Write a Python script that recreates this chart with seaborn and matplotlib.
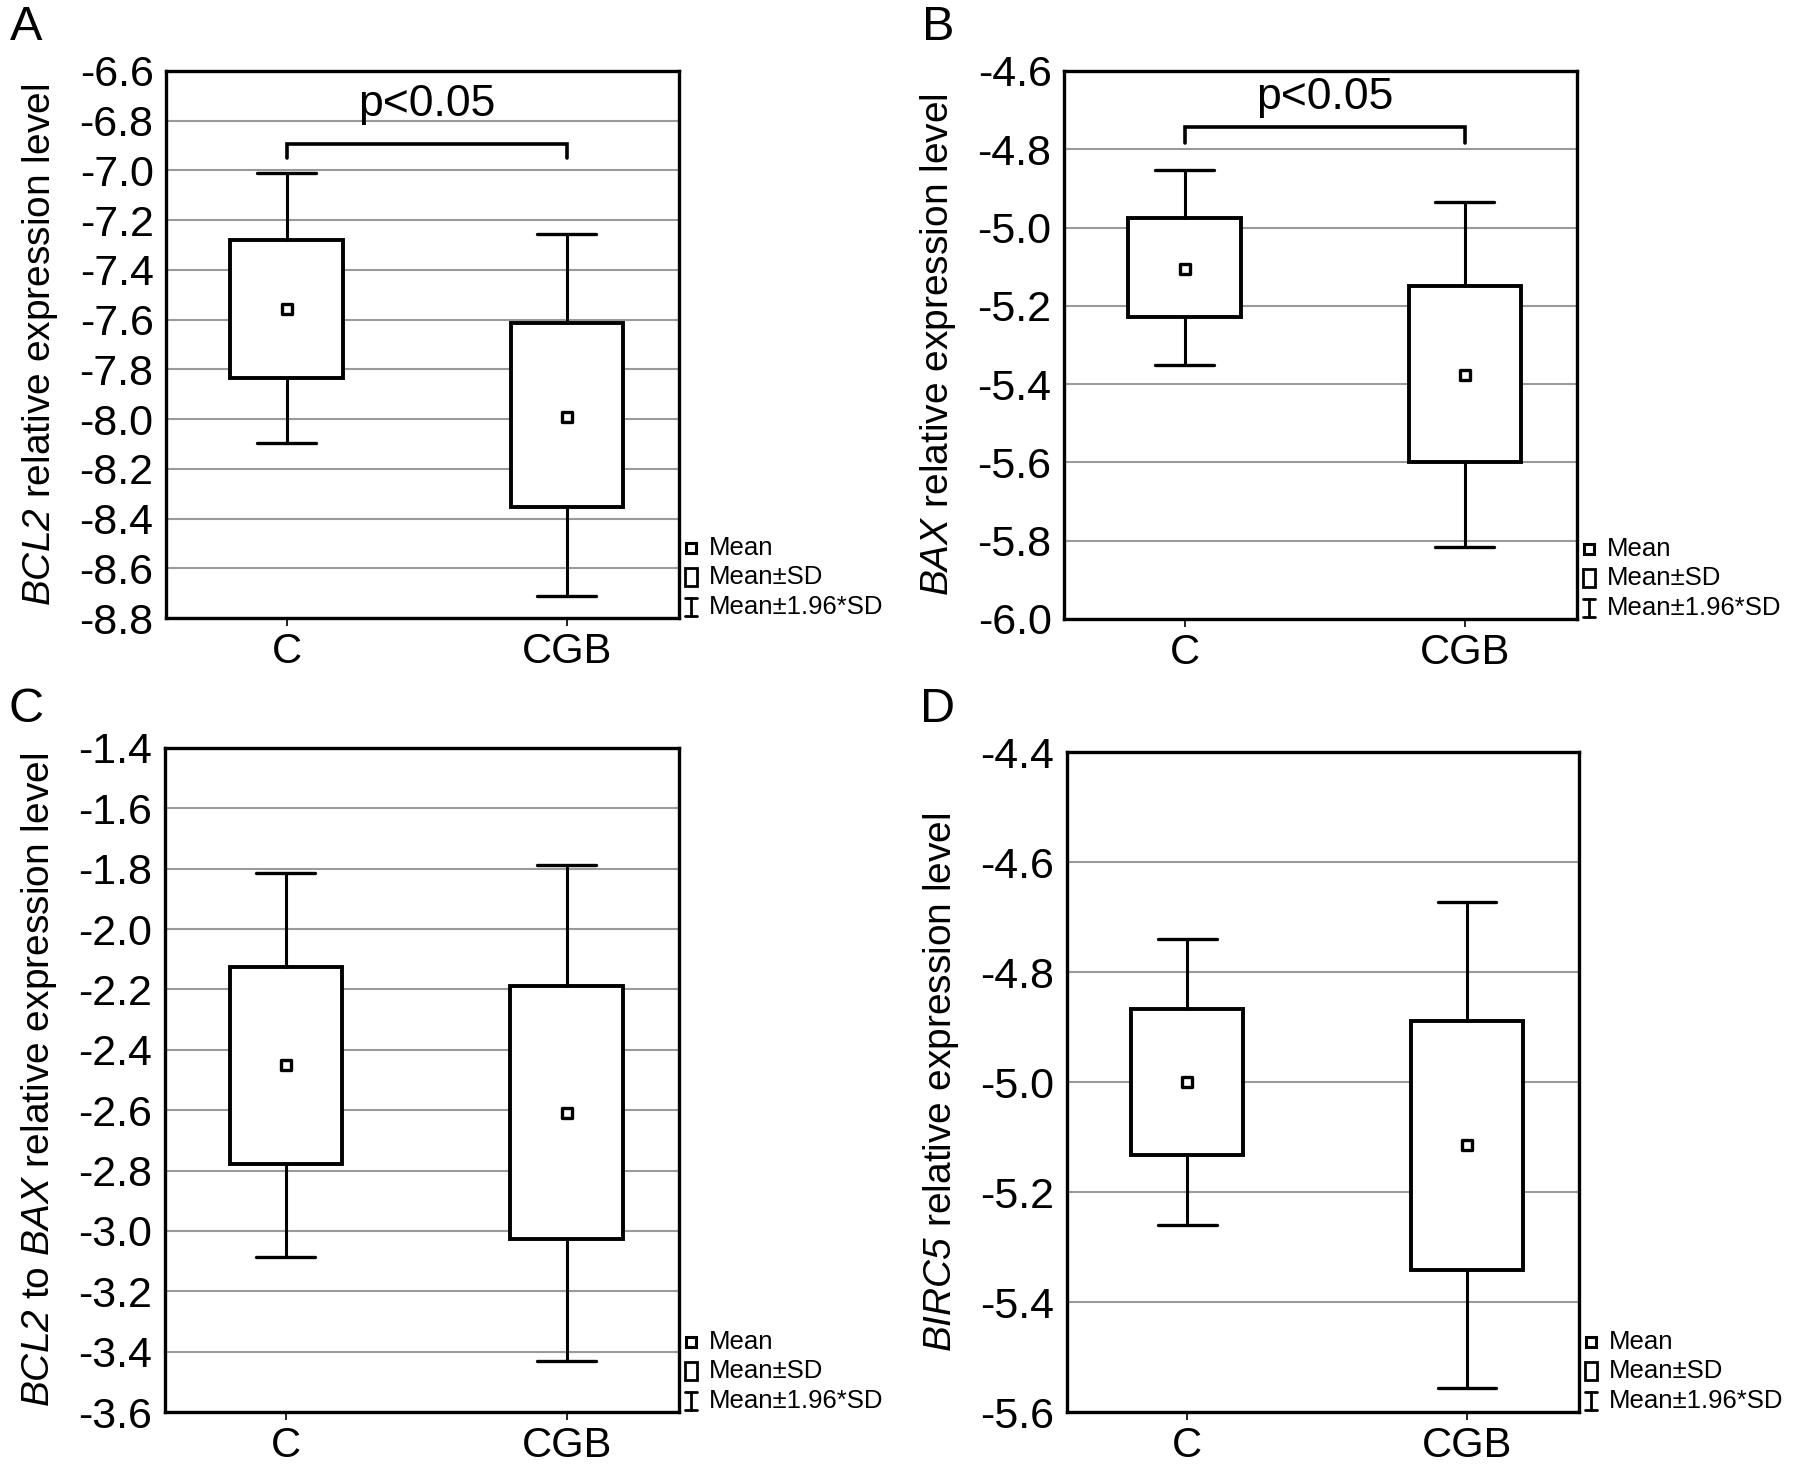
import numpy as np
import pandas as pd
import matplotlib
matplotlib.use("Agg")
import matplotlib.pyplot as plt
import seaborn as sns
from matplotlib.lines import Line2D
from matplotlib.patches import Rectangle

# ---------------- data ----------------
groups = ["C", "CGB"]

a_mean = [-7.557, -7.990]
a_sd_low = [-7.833, -8.354]
a_sd_high = [-7.279, -7.615]
a_ci_low = [-8.097, -8.711]
a_ci_high = [-7.011, -7.257]

b_mean = [-5.105, -5.377]
b_sd_low = [-5.229, -5.600]
b_sd_high = [-4.975, -5.148]
b_ci_low = [-5.352, -5.815]
b_ci_high = [-4.853, -4.934]

c_mean = [-2.450, -2.608]
c_sd_low = [-2.777, -3.027]
c_sd_high = [-2.127, -2.188]
c_ci_low = [-3.088, -3.430]
c_ci_high = [-1.813, -1.788]

d_mean = [-5.000, -5.115]
d_sd_low = [-5.133, -5.341]
d_sd_high = [-4.867, -4.889]
d_ci_low = [-5.260, -5.557]
d_ci_high = [-4.740, -4.672]

panel_letters = ["A", "B", "C", "D"]
y_labels = [r"$\mathit{BCL2}$ relative expression level",
            r"$\mathit{BAX}$ relative expression level",
            r"$\mathit{BCL2}$ to $\mathit{BAX}$ relative expression level",
            r"$\mathit{BIRC5}$ relative expression level"]
y_limits = [(-8.8, -6.6), (-6.0, -4.6), (-3.6, -1.4), (-5.6, -4.4)]
y_steps = [0.2, 0.2, 0.2, 0.2]

# significance brackets: (bar level, leg end level, text level) or None
a_bracket = (-6.892, -6.951, -6.735)
b_bracket = (-4.744, -4.784, -4.668)
sig_text = "p<0.05"

legend_labels = ["Mean", "Mean\u00b1SD", "Mean\u00b11.96*SD"]

# ---------------- style ----------------
sns.set_theme(style="white")
plt.rcParams['font.family'] = ['Liberation Sans', 'DejaVu Sans']
plt.rcParams['axes.unicode_minus'] = False
plt.rcParams['mathtext.fontset'] = 'custom'
plt.rcParams['mathtext.rm'] = 'Liberation Sans:italic'
plt.rcParams['mathtext.it'] = 'Liberation Sans:italic'

W, H = 1795, 1470
fig = plt.figure(figsize=(W / 100, H / 100), dpi=100)

# axes placement in pixels: (left, right, top, bottom) measured from top-left
ax_px = [(166, 679, 71, 618),
         (1064, 1577, 71, 619),
         (165, 679, 748, 1412),
         (1067, 1579, 752, 1412)]
letter_px = [(26, 27), (938, 27), (26, 710), (938, 710)]

panels = [
    (a_mean, a_sd_low, a_sd_high, a_ci_low, a_ci_high, a_bracket),
    (b_mean, b_sd_low, b_sd_high, b_ci_low, b_ci_high, b_bracket),
    (c_mean, c_sd_low, c_sd_high, c_ci_low, c_ci_high, None),
    (d_mean, d_sd_low, d_sd_high, d_ci_low, d_ci_high, None),
]

for i, (mean, sdl, sdh, cil, cih, bracket) in enumerate(panels):
    l, r, t, b = ax_px[i]
    ax = fig.add_axes([l / W, 1 - b / H, (r - l) / W, (b - t) / H])
    pos = np.arange(len(groups))

    stats = [dict(med=m, q1=lo, q3=hi, whislo=wl, whishi=wh, fliers=[])
             for m, lo, hi, wl, wh in zip(mean, sdl, sdh, cil, cih)]
    ax.bxp(stats, positions=pos, widths=0.40, capwidths=0.21,
           patch_artist=True, showfliers=False,
           boxprops=dict(facecolor='white', edgecolor='black', linewidth=2.8),
           whiskerprops=dict(color='black', linewidth=2.2),
           capprops=dict(color='black', linewidth=2.4),
           medianprops=dict(linewidth=0, color='white'),
           zorder=3)

    df = pd.DataFrame({"pos": pos, "mean": mean})
    sns.scatterplot(data=df, x="pos", y="mean", marker="s", s=50,
                    color="white", edgecolor="black", linewidth=2.4,
                    ax=ax, zorder=5, legend=False)

    lo, hi = y_limits[i]
    ax.set_ylim(lo, hi)
    ax.set_xlim(-0.43, 1.40)
    ticks = np.round(np.arange(lo, hi + y_steps[i] / 2, y_steps[i]), 1)
    ax.set_yticks(ticks)
    ax.set_yticklabels([f"{v:.1f}" for v in ticks])
    ax.set_xticks(pos)
    ax.set_xticklabels(groups)
    ax.tick_params(axis='y', length=0, pad=9, labelsize=31, colors='black')
    ax.tick_params(axis='x', length=6, width=1.2, direction='out', pad=4,
                   labelsize=30, colors='black', bottom=True)
    ax.yaxis.grid(True, color='#9a9a9a', linewidth=1.5)
    ax.xaxis.grid(False)
    ax.set_axisbelow(True)
    for sp in ax.spines.values():
        sp.set_color('black')
        sp.set_linewidth(2.4)
        sp.set_visible(True)
    ax.set_xlabel("")
    ax.set_ylabel(y_labels[i], fontsize=28, color='black')
    ax.yaxis.set_label_coords(-0.207, 0.5)

    if bracket is not None:
        bar, leg, txt = bracket
        ax.plot([pos[0], pos[0], pos[1], pos[1]], [leg, bar, bar, leg],
                color='black', linewidth=2.6, solid_joinstyle='miter', zorder=4)
        ax.text((pos[0] + pos[1]) / 2, txt, sig_text, ha='center', va='center',
                fontsize=32, color='black')

    # panel letter
    lx, ly = letter_px[i]
    fig.text(lx / W, 1 - ly / H, panel_letters[i], fontsize=35,
             ha='center', va='center', color='black')

    # legend to the right of the axes, at the bottom
    ix = r + 12
    tx = r + 30
    rows = [b - 70, b - 41, b - 11]
    # Mean marker
    fig.add_artist(Line2D([ix / W], [1 - rows[0] / H], marker='s', markersize=7,
                          markerfacecolor='white', markeredgecolor='black',
                          markeredgewidth=2.2, linestyle='none',
                          transform=fig.transFigure))
    # Mean±SD box
    fig.add_artist(Rectangle(((ix - 6) / W, 1 - (rows[1] + 9) / H),
                             12 / W, 18 / H, facecolor='white', edgecolor='black',
                             linewidth=2.0, transform=fig.transFigure))
    # Mean±1.96*SD I-beam
    yb, yt = 1 - (rows[2] + 9) / H, 1 - (rows[2] - 9) / H
    fig.add_artist(Line2D([ix / W, ix / W], [yb, yt], color='black', linewidth=2.0,
                          transform=fig.transFigure))
    for yy in (yb, yt):
        fig.add_artist(Line2D([(ix - 6) / W, (ix + 6) / W], [yy, yy], color='black',
                              linewidth=2.0, transform=fig.transFigure))
    for row, lab in zip(rows, legend_labels):
        fig.text(tx / W, 1 - row / H, lab, fontsize=18.5, ha='left', va='center',
                 color='black')

fig.savefig("out.png", dpi=100, facecolor='white')
